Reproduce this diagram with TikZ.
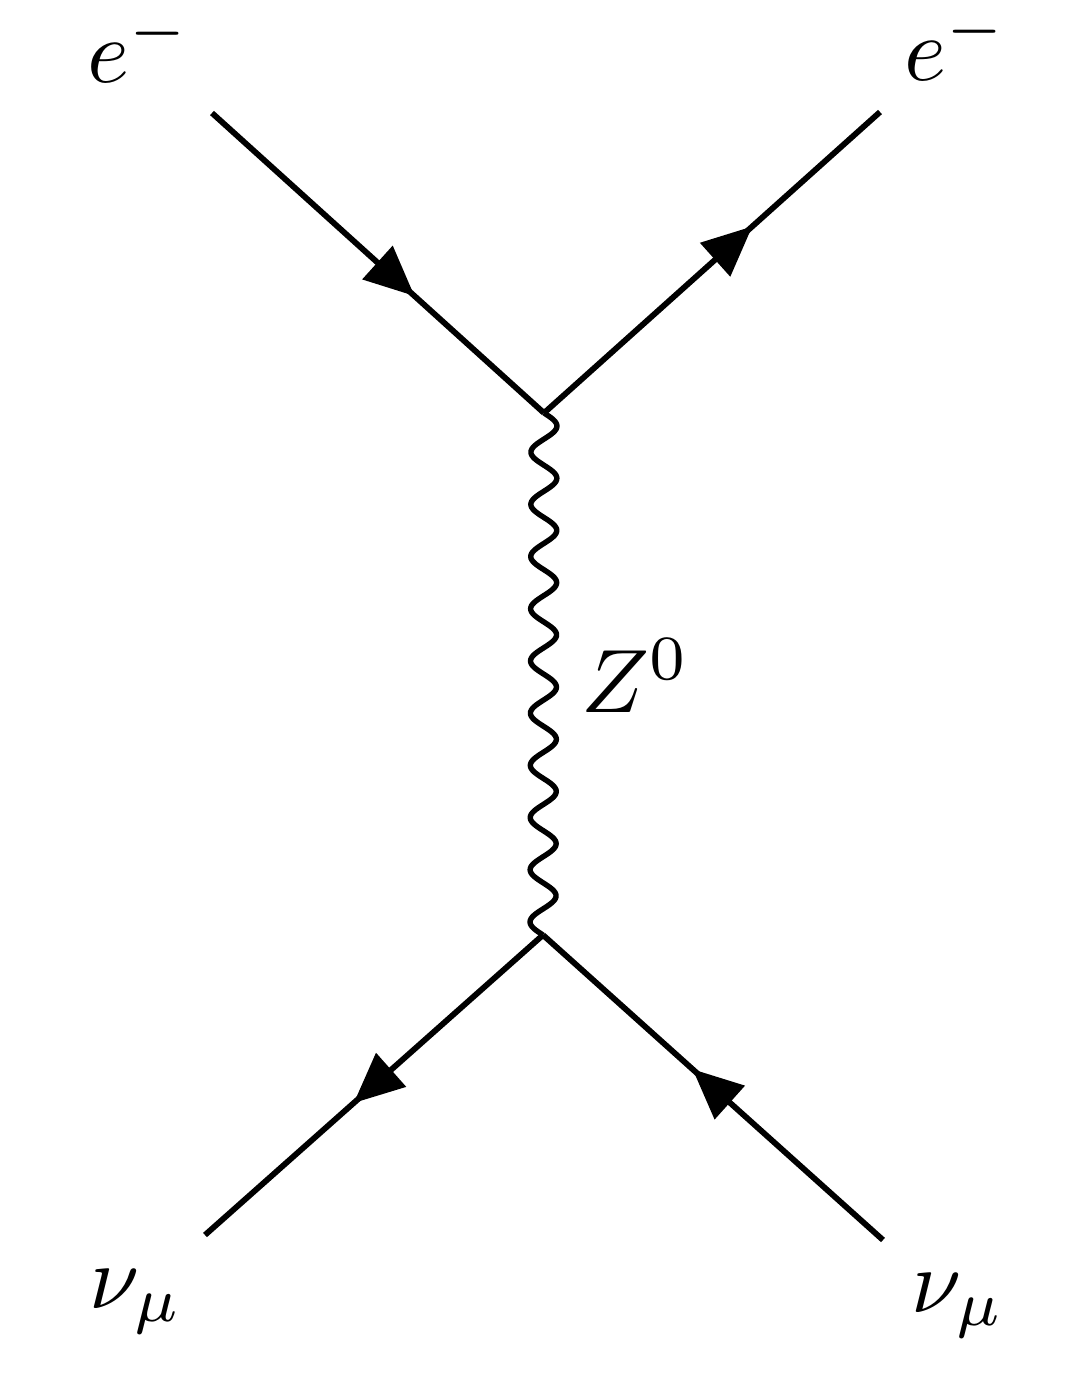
\documentclass[tikz,border=0pt]{standalone}
\usetikzlibrary{calc,decorations.markings,arrows.meta}
\tikzset{
  fermion/.style={line width=2.9pt, postaction={decorate},
    decoration={markings, mark=at position #1 with {\arrow{Triangle[length=25pt,width=22pt]}}}},
  boson/.style={line width=2.7pt, line join=round},
  lbl/.style={inner sep=0pt, anchor=base west, scale=4.5}
}
\begin{document}
\begin{tikzpicture}[x=0.5pt,y=-0.5pt]
\useasboundingbox (0,0) rectangle (1076,1373);
\coordinate (a) at (212,113);
\coordinate (b) at (880,112);
\coordinate (c) at (205,1235);
\coordinate (d) at (883,1240);
\coordinate (v1) at (544,413);
\coordinate (v2) at (543,935);
\draw[fermion=0.61] (a) -- (v1);
\draw[fermion=0.62] (v1) -- (b);
\draw[fermion=0.56] (v2) -- (c);
\draw[fermion=0.56] (d) -- (v2);
\draw[boson] (v1) \foreach \i in {1,...,320} { -- ($(v1)!{\i/320}!(v2)+({13*sin(11.25*\i)},0)$) };
\node[lbl] (la) at (86,82) {$e^-$};
\node[lbl] (lb) at (903,80) {$e^-$};
\node[lbl] (lz) at (580,712) {$Z^0$};
\node[lbl] (lc) at (88,1308) {$\nu_\mu$};
\node[lbl] (ld) at (910,1312) {$\nu_\mu$};
\end{tikzpicture}
\end{document}
